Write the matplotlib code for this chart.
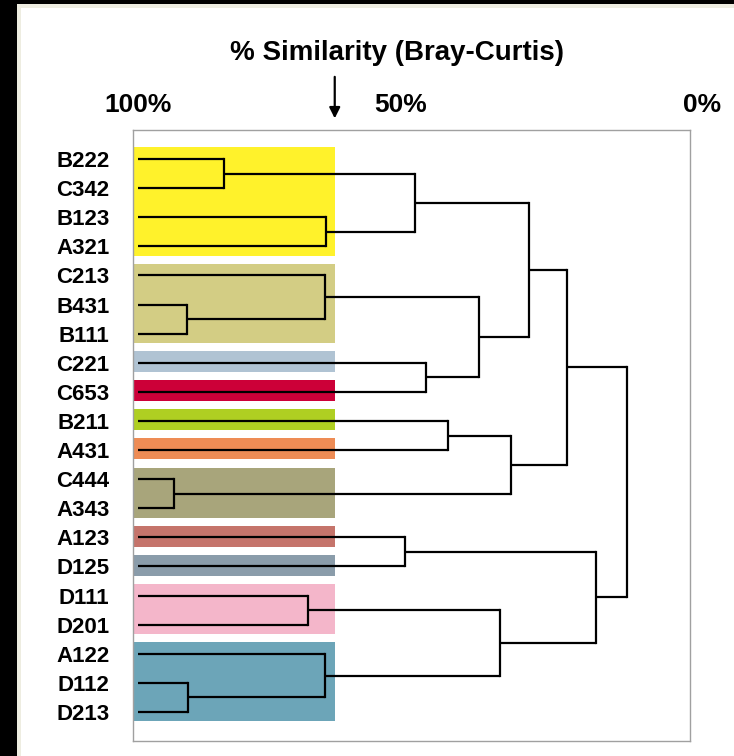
import matplotlib
matplotlib.use("Agg")
import matplotlib.pyplot as plt
import matplotlib.transforms as mtransforms
from matplotlib.patches import Rectangle

plt.rcParams['font.family'] = ['Liberation Sans', 'DejaVu Sans']
plt.rcParams['font.weight'] = 'bold'

# Leaves, top to bottom
leaves = ["B222", "C342", "B123", "A321", "C213", "B431", "B111", "C221",
          "C653", "B211", "A431", "C444", "A343", "A123", "D125", "D111",
          "D201", "A122", "D112", "D213"]

# Merges: children are leaf names or indices of earlier merges, similarity in %
merge_left = ["B222", "B123", 0, "B431", "C213", "C221", 4, 2, "B211", "C444",
              8, 7, "A123", "D111", "D112", "A122", 13, 12, 11]
merge_right = ["C342", "A321", 1, "B111", 3, "C653", 5, 6, "A431", "A343",
               9, 10, "D125", "D201", "D213", 14, 15, 16, 17]
merge_sim = [84.7, 66.5, 50.7, 91.3, 66.7, 48.8, 39.3, 30.4, 44.8, 93.6,
             33.6, 23.7, 52.5, 69.8, 91.1, 66.7, 35.6, 18.5, 13.0]

# Groups at the cut-off level (first leaf, last leaf)
group_first = ["B222", "C213", "C221", "C653", "B211", "A431", "C444", "A123", "D125", "D111", "A122"]
group_last = ["A321", "B111", "C221", "C653", "B211", "A431", "A343", "A123", "D125", "D201", "D213"]
group_colors = ["#FFF22B", "#D3CD84", "#B0C3D3", "#CC0038", "#AFCF22", "#EE8C55",
                "#A8A57B", "#C5746B", "#8A9CAA", "#F4B6CA", "#6CA5B8"]

cutoff = 65
tick_values = [100, 50, 0]
tick_labels = ["100%", "50%", "0%"]

W, H = 734, 756
fig = plt.figure(figsize=(W / 100, H / 100), dpi=100, facecolor="white")

# frame decoration of the original scan
fig.patches.append(Rectangle((0, 0), 17 / W, 1, transform=fig.transFigure,
                             facecolor="black", edgecolor="none", zorder=-2))
fig.patches.append(Rectangle((0, 1 - 4 / H), 1, 4 / H, transform=fig.transFigure,
                             facecolor="black", edgecolor="none", zorder=-2))
fig.patches.append(Rectangle((17 / W, 0), 4 / W, 1 - 4 / H, transform=fig.transFigure,
                             facecolor="#EEEDE1", edgecolor="none", zorder=-1))
fig.patches.append(Rectangle((17 / W, 1 - 8 / H), 1, 4 / H, transform=fig.transFigure,
                             facecolor="#EEEDE1", edgecolor="none", zorder=-1))

ax = fig.add_axes([133 / W, 15 / H, 557 / W, 611 / H])
ypos = {name: i for i, name in enumerate(leaves)}

# coloured bands
for first, last, col in zip(group_first, group_last, group_colors):
    y0 = ypos[first] - 0.4
    y1 = ypos[last] + 0.32
    ax.add_patch(Rectangle((101, y0), cutoff - 101, y1 - y0,
                           facecolor=col, edgecolor="none", zorder=1))

# dendrogram
node_y = []
node_s = []


def child_pos(c):
    if isinstance(c, str):
        return ypos[c], 100.0
    return node_y[c], node_s[c]


lw = 1.6
for l, r, s in zip(merge_left, merge_right, merge_sim):
    yl, sl = child_pos(l)
    yr, sr = child_pos(r)
    ax.plot([sl, s], [yl, yl], color="black", lw=lw, solid_capstyle="butt", zorder=3)
    ax.plot([sr, s], [yr, yr], color="black", lw=lw, solid_capstyle="butt", zorder=3)
    ax.plot([s, s], [yl, yr], color="black", lw=lw, solid_capstyle="projecting", zorder=3)
    node_y.append((yl + yr) / 2)
    node_s.append(s)

# leaf labels
ax.set_yticks(range(len(leaves)))
ax.set_yticklabels(leaves, fontsize=16, fontweight="bold")
ax.tick_params(axis="y", length=0, pad=17)

# similarity scale on top (0% lies outside the frame, so use text)
ax.set_xticks([])
trans = mtransforms.blended_transform_factory(ax.transData, ax.transAxes)
label_shift = [0, -18, 2]  # pixel nudges to match the original hand layout
for v, t, dx in zip(tick_values, tick_labels, label_shift):
    ax.annotate(t, xy=(v, 1.041), xycoords=trans, xytext=(dx * 0.72, 0),
                textcoords="offset points", ha="center", va="center",
                fontsize=19, fontweight="bold", annotation_clip=False)

ax.set_xlim(100.9, 1.78)
ax.set_ylim(20, -1)

for sp in ax.spines.values():
    sp.set_color("#A0A0A0")
    sp.set_linewidth(1.0)

# cut-off arrow
ax.annotate("", xy=(cutoff, 1.019), xytext=(cutoff, 1.087),
            xycoords=trans, textcoords=trans, annotation_clip=False,
            arrowprops=dict(arrowstyle="-|>", color="black", lw=1.6,
                            mutation_scale=16, shrinkA=0, shrinkB=0))

fig.text(397 / W, 1 - 53 / H, "% Similarity (Bray-Curtis)", ha="center", va="center",
         fontsize=20, fontweight="bold")

fig.savefig("out.png", dpi=100, facecolor=fig.get_facecolor())
